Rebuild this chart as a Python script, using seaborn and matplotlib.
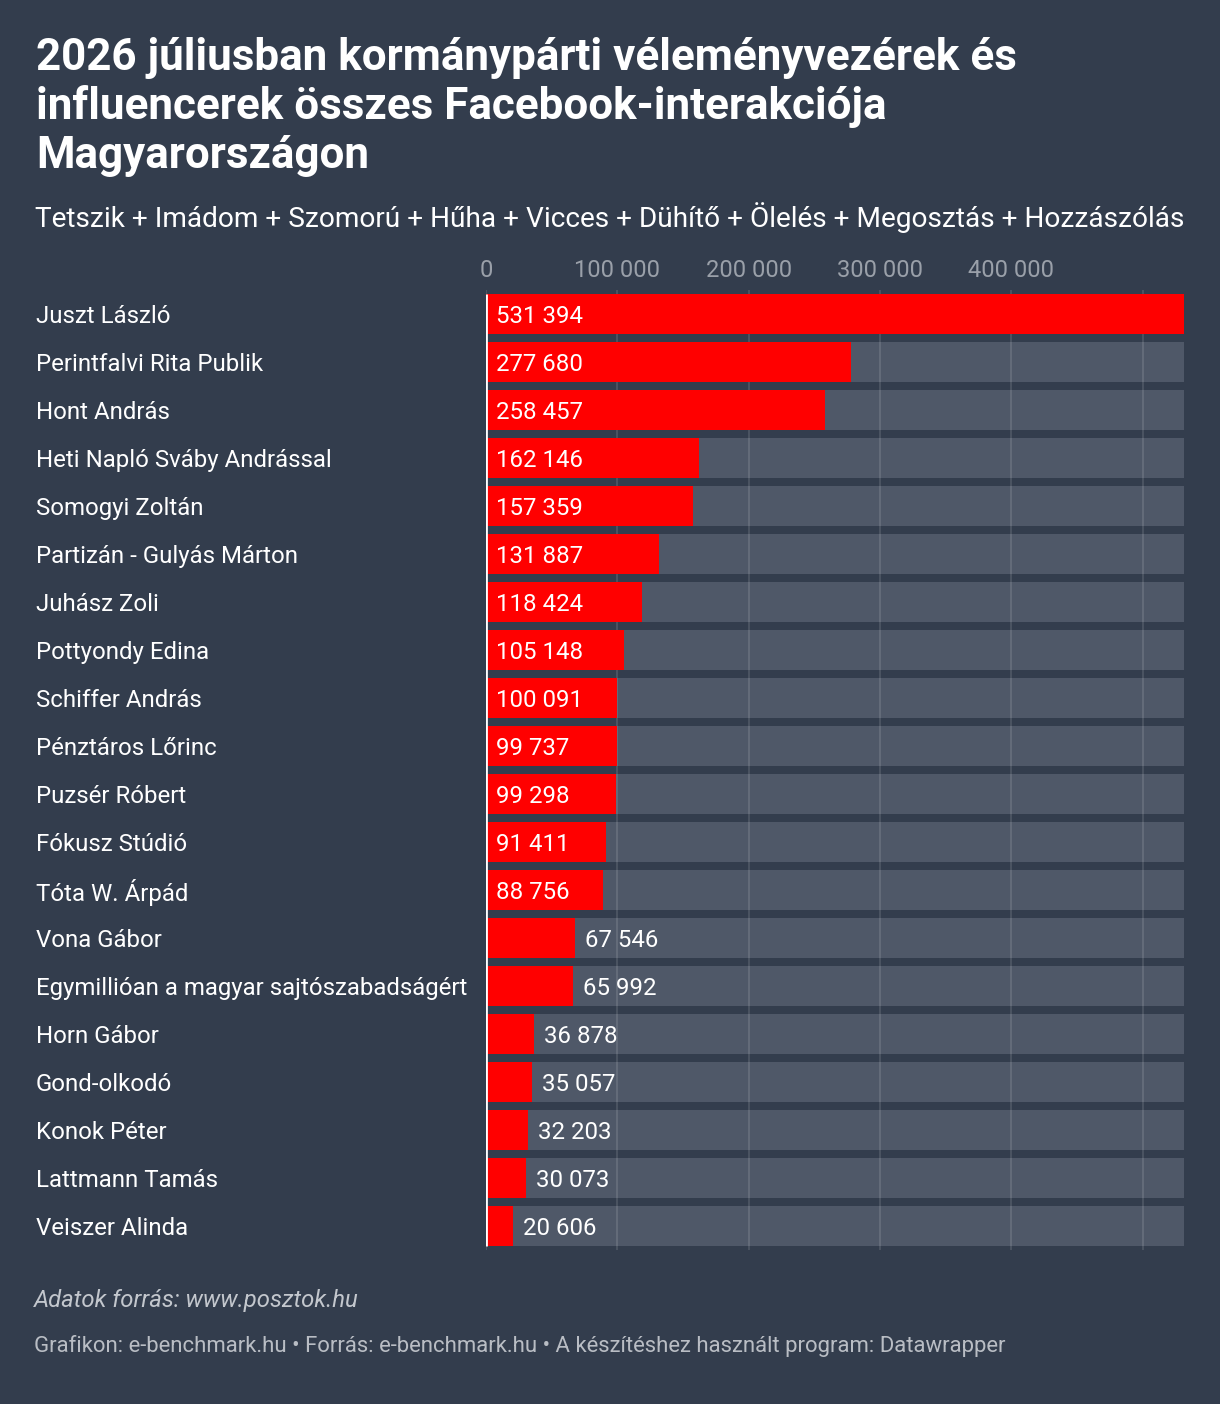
import matplotlib
matplotlib.use("Agg")
import matplotlib.pyplot as plt
import seaborn as sns
import pandas as pd
import numpy as np

names = ["Juszt László", "Perintfalvi Rita Publik", "Hont András", "Heti Napló Sváby Andrással",
         "Somogyi Zoltán", "Partizán - Gulyás Márton", "Juhász Zoli", "Pottyondy Edina",
         "Schiffer András", "Pénztáros Lőrinc", "Puzsér Róbert", "Fókusz Stúdió",
         "Tóta W. Árpád", "Vona Gábor", "Egymillióan a magyar sajtószabadságért",
         "Horn Gábor", "Gond-olkodó", "Konok Péter", "Lattmann Tamás", "Veiszer Alinda"]
values = [531394, 277680, 258457, 162146, 157359, 131887, 118424, 105148, 100091, 99737,
          99298, 91411, 88756, 67546, 65992, 36878, 35057, 32203, 30073, 20606]
tick_values = [0, 100000, 200000, 300000, 400000, 500000]
tick_labels = ["0", "100 000", "200 000", "300 000", "400 000", ""]

title = "2026 júliusban kormánypárti véleményvezérek és\ninfluencerek összes Facebook-interakciója\nMagyarországon"
subtitle = "Tetszik + Imádom + Szomorú + Hűha + Vicces + Dühítő + Ölelés + Megosztás + Hozzászólás"
note = "Adatok forrás: www.posztok.hu"
footer = "Grafikon: e-benchmark.hu • Forrás: e-benchmark.hu • A készítéshez használt program: Datawrapper"

BG = "#333d4d"
GREY = "#4f5868"
RED = "#ff0000"

sns.set_theme(style="white")
plt.rcParams["font.family"] = ["Roboto", "DejaVu Sans"]

df = pd.DataFrame({"name": names, "value": values})
df["full"] = df["value"].max()

W, H = 1220, 1404
fig = plt.figure(figsize=(W / 100, H / 100), dpi=100, facecolor=BG)
ax_left, ax_right = 486, 1184
ax_top, ax_bot = 290, 1250
ax = fig.add_axes([ax_left / W, 1 - ax_bot / H, (ax_right - ax_left) / W, (ax_bot - ax_top) / H])
ax.set_facecolor(BG)

sns.barplot(data=df, x="full", y="name", orient="h", color=GREY, width=0.83,
            saturation=1, linewidth=0, ax=ax, zorder=1)
sns.barplot(data=df, x="value", y="name", orient="h", color=RED, width=0.83,
            saturation=1, linewidth=0, ax=ax, zorder=3)

for tv in tick_values:
    ax.axvline(tv, color="white", alpha=0.13, lw=1.3, zorder=2)
ax.vlines(0, -0.42, len(names) - 1 + 0.42, color="white", lw=2, zorder=4)

ax.set_xlim(0, df["value"].max())
ax.set_ylim(len(names) - 0.5, -0.5)
ax.xaxis.tick_top()
ax.set_xticks(tick_values)
ax.set_xticklabels(tick_labels, color="#9aa0a9", fontsize=17)
ax.tick_params(axis="x", length=0, pad=6)
ax.set_yticks(range(len(names)))
ax.set_yticklabels(names, ha="left", color="white", fontsize=17.3)
ax.tick_params(axis="y", length=0, pad=(ax_left - 36) * 0.72)
ax.set_xlabel("")
ax.set_ylabel("")
for s in ax.spines.values():
    s.set_visible(False)

fig.canvas.draw()
renderer = fig.canvas.get_renderer()
px_per_unit = (ax_right - ax_left) / df["value"].max()
off = 10 / px_per_unit
for i, v in enumerate(values):
    lab = f"{v:,}".replace(",", " ")
    t = ax.text(off, i, lab, color="white", fontsize=17.3, va="center_baseline", ha="left", zorder=5)
    wpx = t.get_window_extent(renderer).width
    if wpx + 20 > v * px_per_unit:
        t.set_x(v + off)

fig.text(36 / W, 1 - 37 / H, title, color="white", fontsize=31.7, fontweight="bold",
         va="top", ha="left", linespacing=1.19)
fig.text(35 / W, 1 - 218 / H, subtitle, color="white", fontsize=20.2, va="center", ha="left")
fig.text(34 / W, 1 - 1300 / H, note, color="#c3c7cd", fontsize=17.2, style="italic",
         va="center", ha="left")
fig.text(34 / W, 1 - 1346 / H, footer, color="#b9bdc4", fontsize=15.9, va="center", ha="left")

fig.savefig("out.png", dpi=100, facecolor=BG)
